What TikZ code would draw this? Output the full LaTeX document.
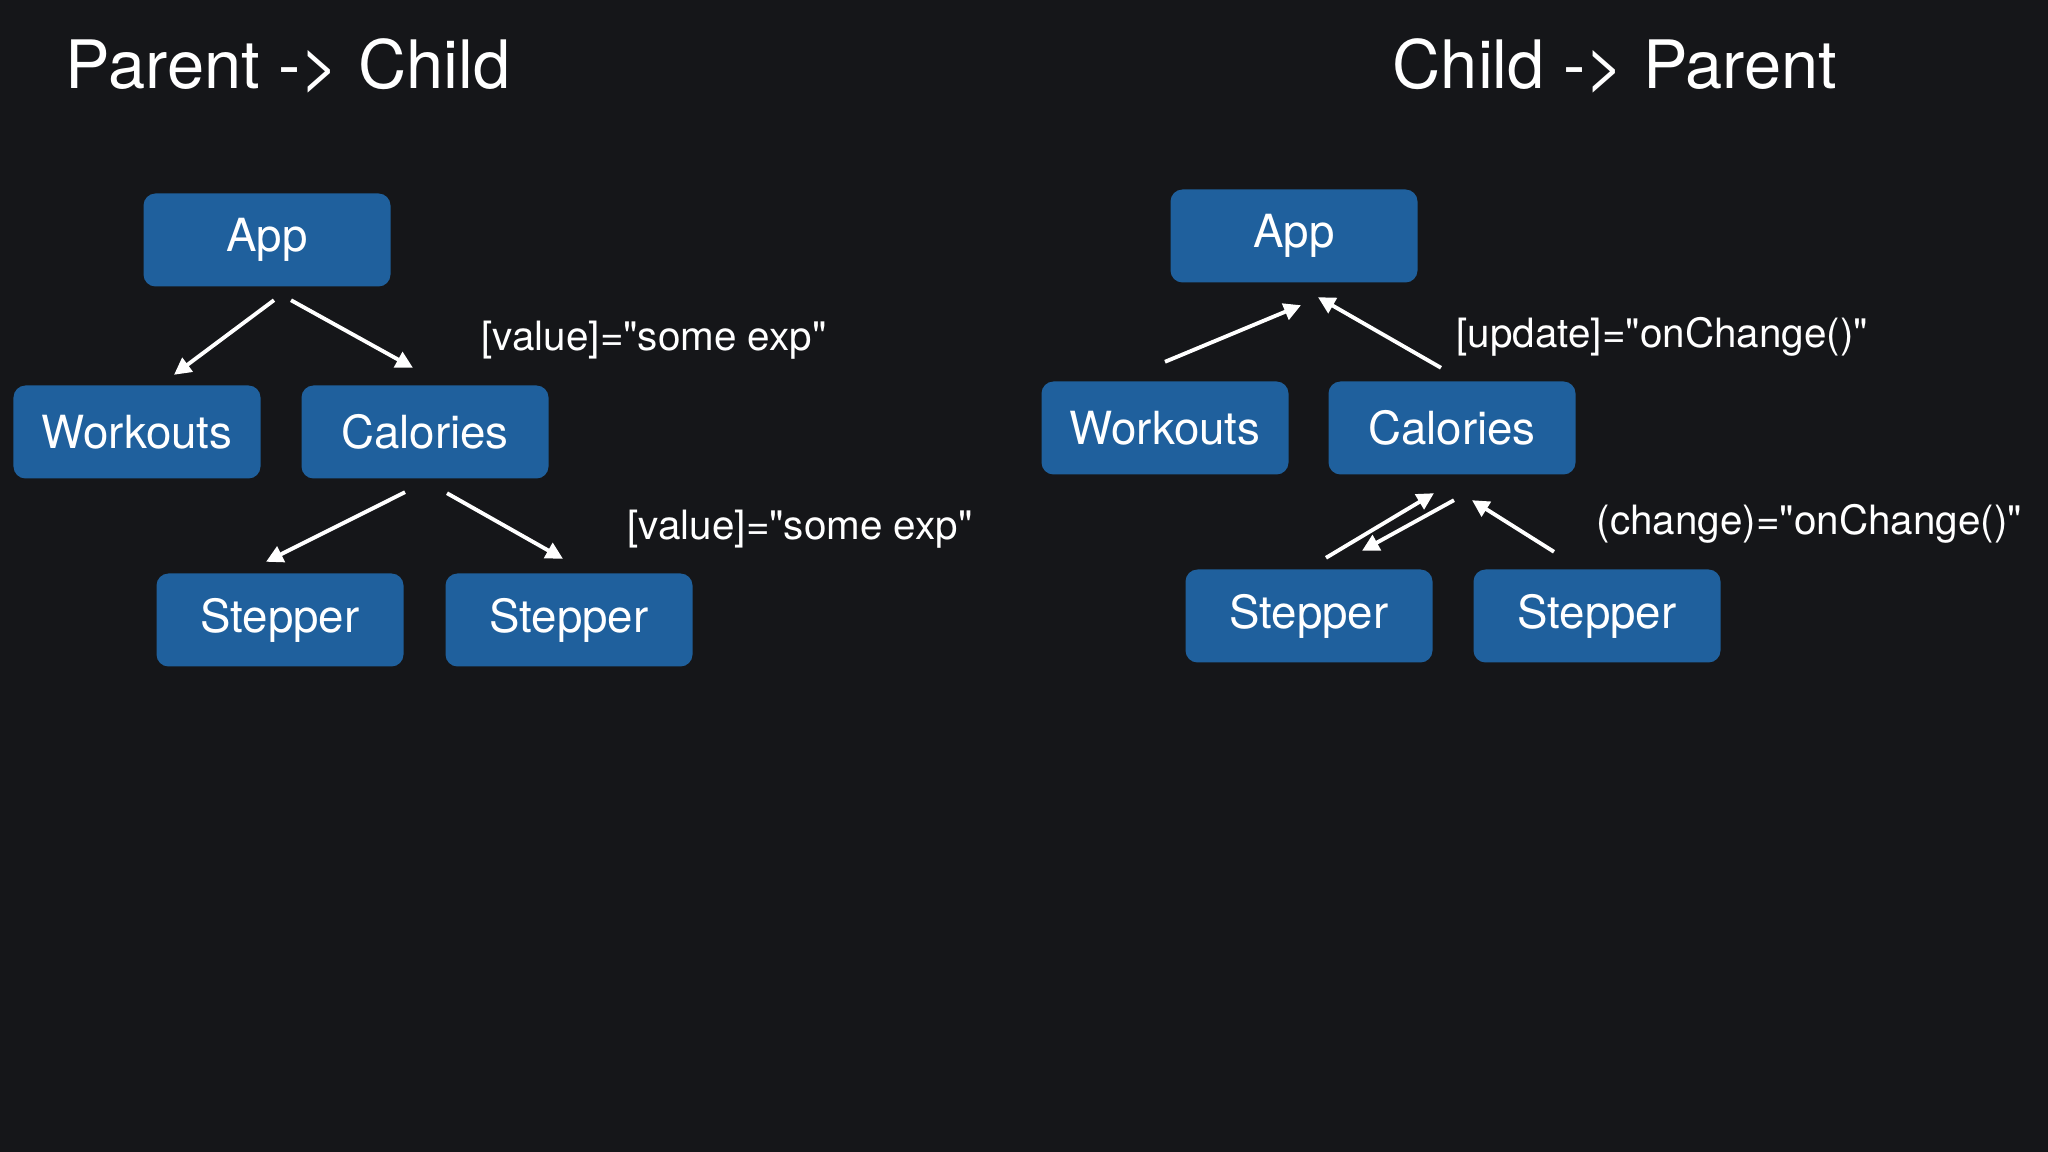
\documentclass[tikz,border=0pt]{standalone}
\usepackage{fontspec}
\setmainfont{TeX Gyre Heros}[Ligatures=TeXOff]
\usepackage{tikz}
\usetikzlibrary{arrows.meta, positioning}
\definecolor{bgdark}{RGB}{21,22,25}
\definecolor{boxblue}{RGB}{31,96,157}
\tikzstyle{comp} = [rectangle, rounded corners=0.12cm, minimum width=2.47cm, minimum height=0.93cm, fill=boxblue, text=white, font=\fontsize{13}{15}\selectfont, inner sep=0pt]
\tikzstyle{title} = [text=white, anchor=base west, font=\fontsize{19}{22}\selectfont, inner sep=0pt]
\tikzstyle{lbl} = [text=white, anchor=west, font=\fontsize{11.5}{14}\selectfont, inner sep=0pt]
\tikzstyle{arrow} = [white, line width=1.1pt, -{Triangle[length=0.17cm,width=0.17cm]}]

\begin{document}
\begin{tikzpicture}
                            \fill [bgdark] (0,0) rectangle (20.48,-11.52);
                            \useasboundingbox (0,0) rectangle (20.48,-11.52);
                            % parent -> child
                            \node [title] (t1) at (0.65,-0.89) {Parent -> Child};
                            \node [comp] (app1) at (2.67,-2.40) {App};
                            \node [comp] (wk1) at (1.37,-4.32) {Workouts};
                            \node [comp] (cal1) at (4.25,-4.32) {Calories};
                            \node [comp] (st1) at (2.80,-6.20) {Stepper};
                            \node [comp] (st2) at (5.69,-6.20) {Stepper};
                            \node [lbl] (l1) at (4.81,-3.40) {[value]="some exp"};
                            \node [lbl] (l2) at (6.27,-5.29) {[value]="some exp"};
                            \draw [arrow] ([shift={(0.07,-0.13)}]app1.south) -- ([shift={(0.37,0.10)}]wk1.north);
                            \draw [arrow] ([shift={(0.24,-0.13)}]app1.south) -- ([shift={(-0.12,0.17)}]cal1.north);
                            \draw [arrow] ([shift={(-0.20,-0.13)}]cal1.south) -- ([shift={(-0.14,0.11)}]st1.north);
                            \draw [arrow] ([shift={(0.22,-0.14)}]cal1.south) -- ([shift={(-0.06,0.14)}]st2.north);
                            % child -> parent
                            \node [title] (t2) at (13.92,-0.89) {Child -> Parent};
                            \node [comp] (app2) at (12.94,-2.36) {App};
                            \node [comp] (wk2) at (11.65,-4.28) {Workouts};
                            \node [comp] (cal2) at (14.52,-4.28) {Calories};
                            \node [comp] (st3) at (13.09,-6.16) {Stepper};
                            \node [comp] (st4) at (15.97,-6.16) {Stepper};
                            \node [lbl] (l3) at (14.56,-3.37) {[update]="onChange()"};
                            \node [lbl] (l4) at (15.96,-5.24) {(change)="onChange()"};
                            \draw [arrow] ([shift={(0,0.19)}]wk2.north) -- ([shift={(0.07,-0.22)}]app2.south);
                            \draw [arrow] ([shift={(-0.11,0.13)}]cal2.north) -- ([shift={(0.24,-0.14)}]app2.south);
                            \draw [arrow] ([shift={(0.17,0.11)}]st3.north) -- ([shift={(-0.18,-0.18)}]cal2.south);
                            \draw [arrow] ([shift={(0.02,-0.25)}]cal2.south) -- ([shift={(0.53,0.18)}]st3.north);
                            \draw [arrow] ([shift={(-0.43,0.17)}]st4.north) -- ([shift={(0.20,-0.25)}]cal2.south);
                        \end{tikzpicture}
\end{document}
